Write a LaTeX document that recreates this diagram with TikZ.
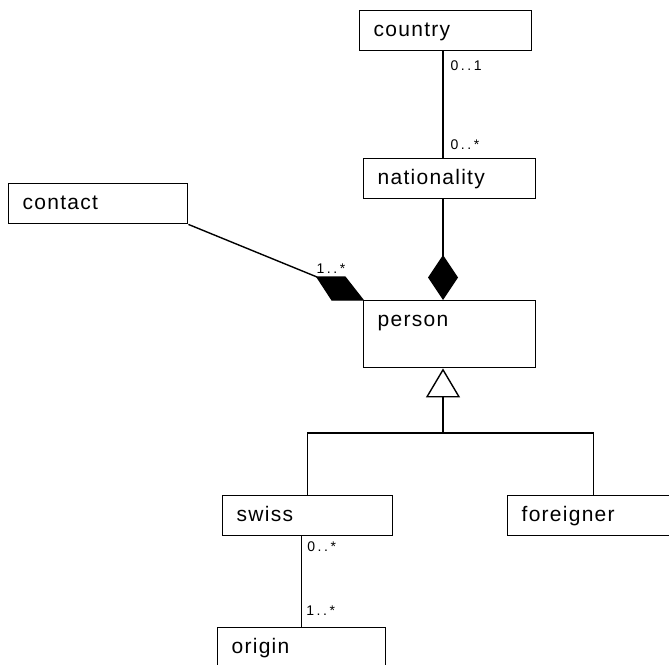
\documentclass[tikz,border=0pt]{standalone}
\usepackage{fontspec}
\setmainfont{Liberation Sans}
\newfontfamily\umlfont[LetterSpace=6]{Liberation Sans}
\newfontfamily\multfont[LetterSpace=18]{Liberation Sans}
\usetikzlibrary{arrows.meta}

\begin{document}
\begin{tikzpicture}[x=1pt, y=-1pt, line width=1.4pt]
        \tikzstyle{every node}=[font=\umlfont\fontsize{21}{24}\selectfont]
        \tikzstyle{cls}=[draw, anchor=north west, minimum height=40pt, inner xsep=14pt, inner ysep=0pt, text width=144pt, align=left, text height=16pt, text depth=4pt]
        \tikzstyle{mult}=[font=\multfont\fontsize{14}{16}\selectfont, inner sep=0pt, anchor=base west]

        \useasboundingbox (0,0) rectangle (669,664);

        \node   (country)     [cls] at (359,10)  {country};
        \node   (nationality) [cls] at (363,158) {nationality};
        \node   (contact)     [cls, text width=151pt] at (8,183) {contact};
        \node   (person)      [cls, text height=26pt, text depth=41pt] at (363,300) {person};
        \node   (swiss)       [cls, text width=142pt] at (222,495) {swiss};
        \node   (foreigner)   [cls] at (507,495) {foreigner};
        \node   (origin)      [cls, text width=140pt] at (217,627) {origin};

        \coordinate (spine) at (443,0);
        \coordinate (fork) at (443,433);
        \coordinate (aggtip) at ([shift={(-46,-23)}]person.north west);

        % country -- nationality
        \draw (spine |- country.south) -- (spine |- nationality.north);
        \node (country-mult)     [mult] at ([shift={(7,19)}]spine |- country.south) {0..1};
        \node (nationality-mult) [mult] at ([shift={(7,-9)}]spine |- nationality.north) {0..*};

        % composition
        \draw[-{Diamond[length=45pt, width=30pt]}] (spine |- nationality.south) -- (spine |- person.north);
        \draw (contact.south east) -- (aggtip);
        \filldraw[line join=miter] (person.north west) -- ++(-31,0) -- (aggtip) -- ++(28,0) -- cycle;
        \node (contact-mult) [mult] at ([shift={(-1,-4)}]aggtip) {1..*};

        % generalisation
        \draw[-{Triangle[open, length=29pt, width=34pt]}] (fork) -- (spine |- person.south);
        \draw (swiss.north) |- (fork) -| (foreigner.north);

        % swiss -- origin
        \draw (origin.north) -- (origin.north |- swiss.south);
        \node (swiss-mult)  [mult] at ([shift={(5,15)}]origin.north |- swiss.south) {0..*};
        \node (origin-mult) [mult] at ([shift={(4,-12)}]origin.north) {1..*};

    \end{tikzpicture}
\end{document}
